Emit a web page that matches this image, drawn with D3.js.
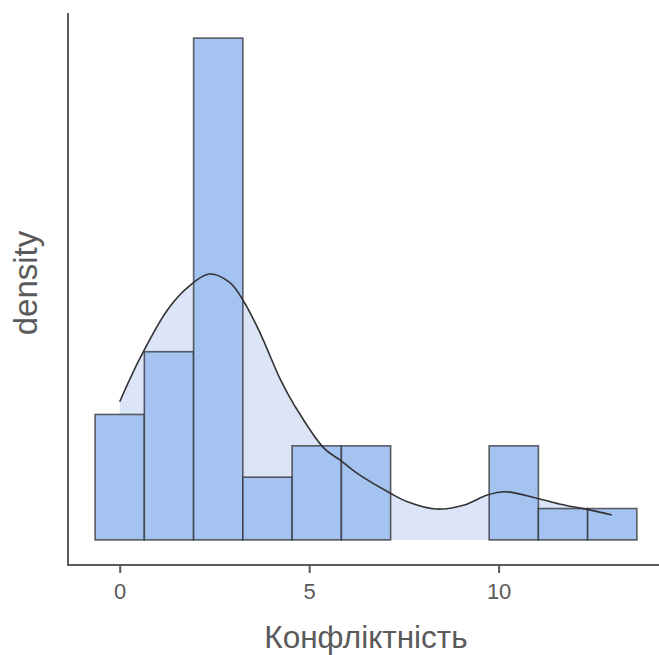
<!DOCTYPE html>
<html>
<head>
<meta charset="utf-8">
<script src="https://cdn.jsdelivr.net/npm/d3@7"></script>
<style>
  html, body { margin: 0; padding: 0; background: #fff; }
  svg { display: block; }
</style>
</head>
<body>
<svg id="chart" width="659" height="655"></svg>
<script>
// Histogram of "Конфліктність" (11 bins, width 1.3) with a kernel density overlay
const binStart = -0.65;
const binWidth = 1.3;
const binCounts = [4, 6, 16, 2, 3, 3, 0, 0, 3, 1, 1];

// Density curve sampled along the data range
const densityX = [0, 0.555, 1.259, 1.794, 2.356, 2.901, 3.278, 3.706, 4.246, 4.607, 5.388, 5.828, 6.25, 7.146, 7.594, 8.35, 9.097, 9.696, 10.178, 11.014, 11.6, 12.332, 12.99];
const densityY = [0.0869, 0.1152, 0.1446, 0.1588, 0.1672, 0.1620, 0.1498, 0.1301, 0.1006, 0.0848, 0.0577, 0.0500, 0.0421, 0.0293, 0.0240, 0.0194, 0.0220, 0.0282, 0.0303, 0.0262, 0.0226, 0.0192, 0.0157];

const xTicks = [0, 5, 10];
const xTitle = "Конфліктність";
const yTitle = "density";

const n = d3.sum(binCounts);
const bins = binCounts.map((c, i) => ({
  x0: binStart + i * binWidth,
  x1: binStart + (i + 1) * binWidth,
  density: c / (n * binWidth)
}));

const svg = d3.select("#chart");
const panel = { left: 68, right: 664, top: 13, bottom: 565 };

const xMin = bins[0].x0, xMax = bins[bins.length - 1].x1;
const xPad = (xMax - xMin) * 0.05;
const x = d3.scaleLinear().domain([xMin - xPad, xMax + xPad]).range([panel.left, panel.right]);

const yMax = d3.max(bins, d => d.density);
const yPad = yMax * 0.05;
const y = d3.scaleLinear().domain([-yPad, yMax + yPad]).range([panel.bottom, panel.top]);

const curvePts = densityX.map((v, i) => [v, densityY[i]]);

// density area
svg.append("path")
  .datum(curvePts)
  .attr("fill", "#dbe5f7")
  .attr("d", d3.area().x(d => x(d[0])).y0(y(0)).y1(d => y(d[1])).curve(d3.curveCatmullRom));

// histogram bars
svg.append("g")
  .selectAll("rect")
  .data(bins)
  .join("rect")
  .attr("x", d => x(d.x0))
  .attr("width", d => x(d.x1) - x(d.x0))
  .attr("y", d => y(d.density))
  .attr("height", d => y(0) - y(d.density))
  .attr("fill", "#a5c3f1")
  .attr("stroke", "#2a2a2a")
  .attr("stroke-opacity", 0.72)
  .attr("stroke-width", 1.6);

// density line
svg.append("path")
  .datum(curvePts)
  .attr("fill", "none")
  .attr("stroke", "#333")
  .attr("stroke-width", 1.6)
  .attr("d", d3.line().x(d => x(d[0])).y(d => y(d[1])).curve(d3.curveCatmullRom));

// axes
const axisColor = "#5a5a5a";
const font = "'Liberation Sans', Arial, sans-serif";
const xAxis = svg.append("g")
  .attr("transform", `translate(0,${panel.bottom})`)
  .call(d3.axisBottom(x).tickValues(xTicks).tickSize(8).tickPadding(10).tickFormat(d3.format("d")));
xAxis.select(".domain").remove();
xAxis.selectAll(".tick line").attr("stroke", axisColor).attr("stroke-width", 2);
xAxis.selectAll(".tick text")
  .attr("fill", "#5a5a5a")
  .style("font-family", font)
  .style("font-size", "22px");

svg.append("line")
  .attr("x1", panel.left).attr("x2", 659)
  .attr("y1", panel.bottom).attr("y2", panel.bottom)
  .attr("stroke", axisColor).attr("stroke-width", 2);
svg.append("line")
  .attr("x1", panel.left).attr("x2", panel.left)
  .attr("y1", panel.top).attr("y2", panel.bottom + 1)
  .attr("stroke", axisColor).attr("stroke-width", 2);

// axis titles
svg.append("text")
  .attr("x", 366)
  .attr("y", 648)
  .attr("text-anchor", "middle")
  .attr("fill", "#5a5a5a")
  .style("font-family", font)
  .style("font-size", "31.5px")
  .text(xTitle);

svg.append("text")
  .attr("transform", "translate(37,283) rotate(-90)")
  .attr("text-anchor", "middle")
  .attr("fill", "#5a5a5a")
  .style("font-family", font)
  .style("font-size", "33px")
  .text(yTitle);
</script>
</body>
</html>
